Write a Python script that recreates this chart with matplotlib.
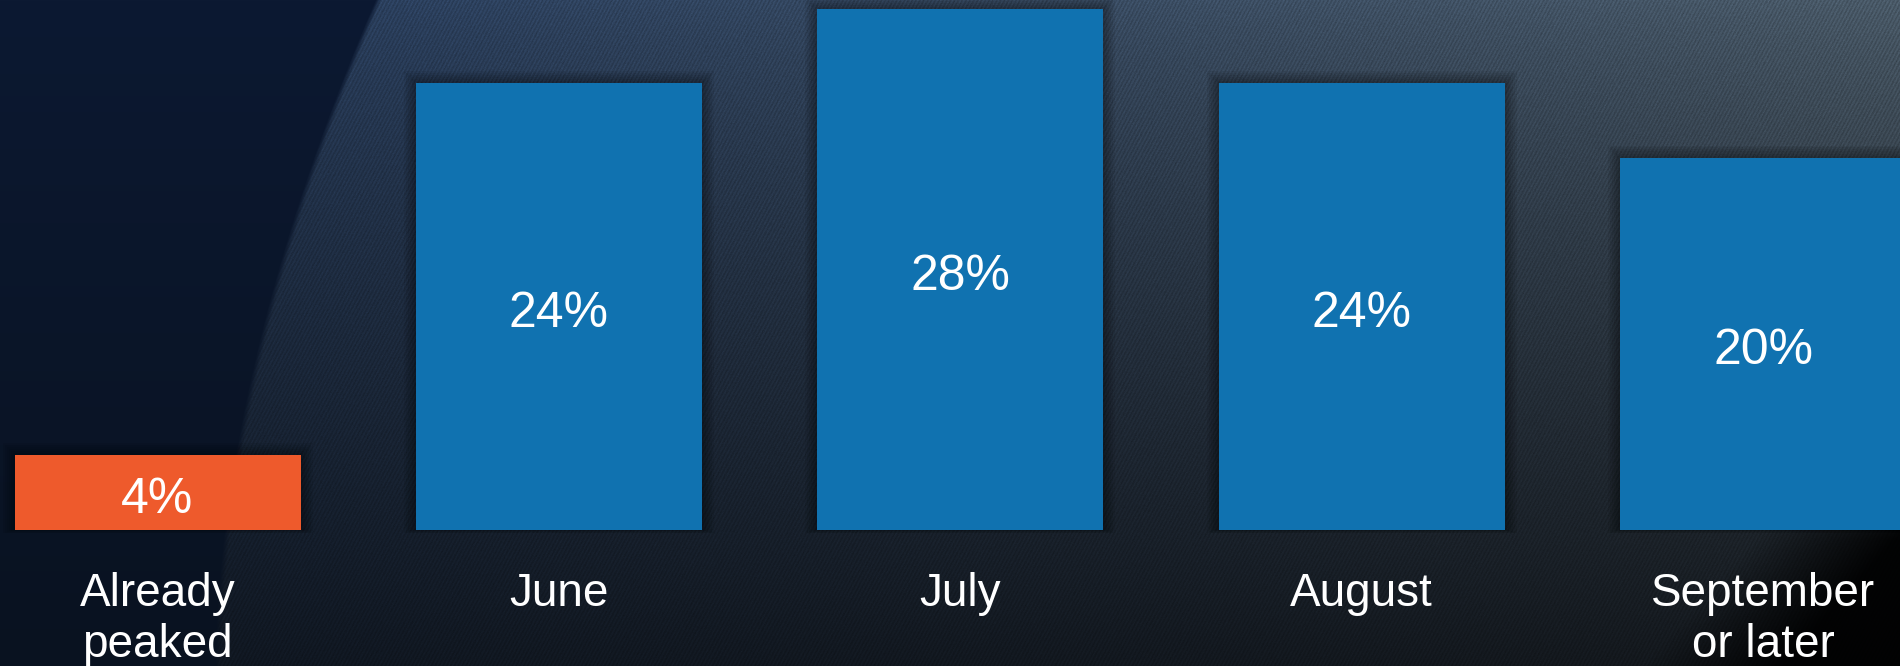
import numpy as np
import matplotlib
matplotlib.use('Agg')
from matplotlib import pyplot as plt
from matplotlib.patches import Rectangle

plt.rcParams['font.family'] = ['Liberation Sans', 'DejaVu Sans']

categories = ['Already\npeaked', 'June', 'July', 'August', 'September\nor later']
values = [4, 24, 28, 24, 20]
value_labels = ['4%', '24%', '28%', '24%', '20%']
bar_colors = ['#EE5A2C', '#1072B0', '#1072B0', '#1072B0', '#1072B0']

W, H = 1900, 666


def make_background():
    yy, xx = np.mgrid[0:H, 0:W].astype(float)
    # curved edge of the lighter textured area
    xc = 215 + 160 * (1 - yy / H) ** 1.8
    t = np.clip((xx - xc) / 6.0, 0, 1)

    left = np.array([12, 25, 50]) / 255.0
    left_bot = np.array([9, 18, 32]) / 255.0
    fy = (yy / H)[..., None]
    dark = left * (1 - fy) + left_bot * fy

    # right side: navy near the top, greyer to the right, nearly black low down
    fx = np.clip((xx - 300) / 1600, 0, 1)[..., None]
    top_l = np.array([42, 63, 94]) / 255.0
    top_r = np.array([74, 90, 104]) / 255.0
    bot_l = np.array([16, 23, 33]) / 255.0
    bot_r = np.array([20, 24, 28]) / 255.0
    top = top_l * (1 - fx) + top_r * fx
    bot = bot_l * (1 - fx) + bot_r * fx
    light = top * (1 - fy ** 0.8) + bot * fy ** 0.8

    # fine diagonal weave
    ang = np.deg2rad(62)
    stripes = np.sin(2 * np.pi * (xx * np.sin(ang) + yy * np.cos(ang)) / 3.4)
    rng = np.random.default_rng(3)
    noise = rng.normal(0, 1, (H, W))
    light = light * (1 + (0.09 * stripes + 0.03 * noise)[..., None])

    img = dark * (1 - t[..., None]) + light * t[..., None]

    # black corner lower right
    d = (xx - 1700) + (yy - 600) * 0.9
    k = np.clip(d / 140, 0, 1) * np.clip((yy - 420) / 120, 0, 1)
    img = img * (1 - 0.9 * k[..., None])
    return np.clip(img, 0, 1)


fig = plt.figure(figsize=(W / 100, H / 100), dpi=100)
bg = fig.add_axes([0, 0, 1, 1])
bg.imshow(make_background(), aspect='auto', extent=[0, 1, 0, 1], interpolation='nearest')
bg.set_axis_off()

ax = fig.add_axes([0, 0, 1, 1])
ax.patch.set_alpha(0)
ax.set_axis_off()

step = 401.4
x0 = 157.5
ppu = 18.6
base = H - 529.5
ax.set_xlim(-x0 / step, (W - x0) / step)
ax.set_ylim(-base / ppu, (H - base) / ppu)

xs = np.arange(len(values))
width = 286 / step

# soft shadows behind bars
for x, v in zip(xs, values):
    for i in range(1, 7):
        pad = i * 2.0
        ax.add_patch(Rectangle((x - width / 2 - pad / step, 0 - pad / ppu * 0.3),
                               width + 2 * pad / step, v + pad / ppu * 1.3,
                               facecolor='black', edgecolor='none', alpha=0.06, zorder=1))

ax.bar(xs, values, width=width, color=bar_colors, zorder=2)

for x, v, lab in zip(xs, values, value_labels):
    ax.text(x, v / 2 - 1.1, lab, ha='center', va='baseline', color='white',
            fontsize=36, zorder=3)

line_y = [-4.11, -6.85]
for x, c in zip(xs, categories):
    for j, part in enumerate(c.split('\n')):
        ax.text(x, line_y[j], part, ha='center', va='baseline', color='white',
                fontsize=33, zorder=3)

fig.savefig('out.png', dpi=100)
